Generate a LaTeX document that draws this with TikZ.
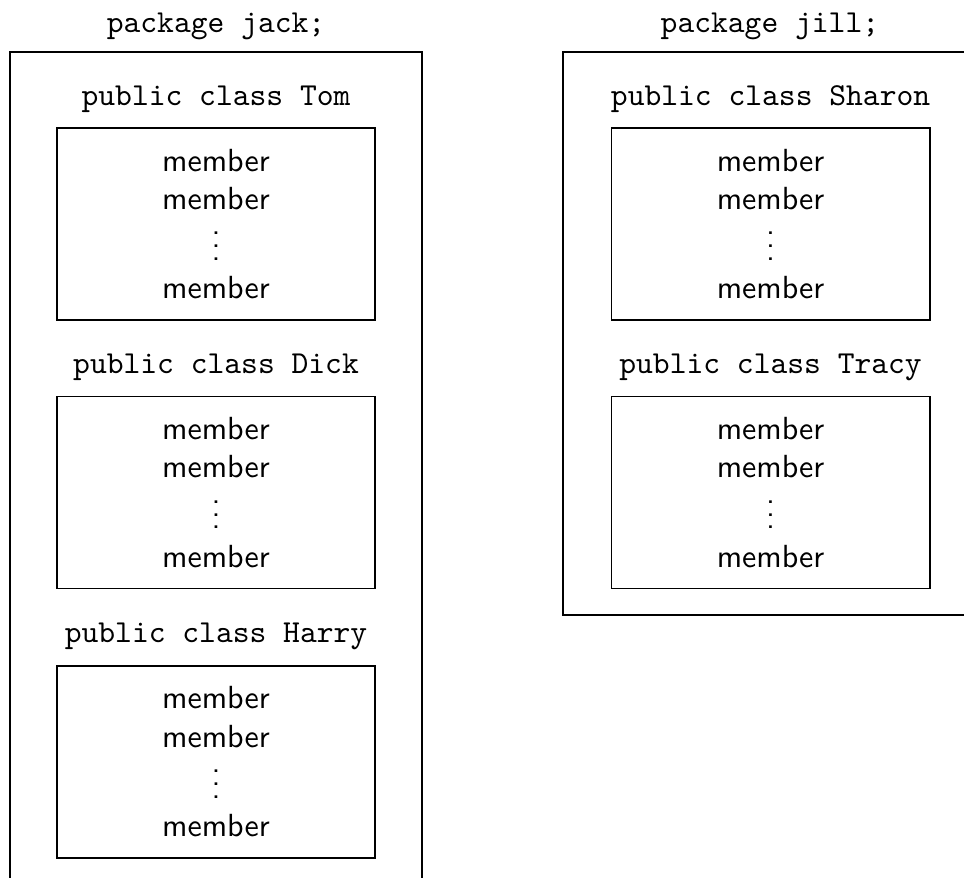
\documentclass[tikz,border=0pt]{standalone}
\usetikzlibrary{positioning}
\newcommand{\memberlist}{member\\member\\$\vdots$\\member}
\begin{document}
\begin{tikzpicture}[x=1pt, y=-1pt,
  pkgbox/.style={draw, line width=0.6pt, outer sep=0pt, minimum width=128.75pt},
  classbox/.style={draw, line width=0.6pt, outer sep=0pt, align=center, font=\sffamily,
    minimum width=99.4pt, minimum height=60pt},
  title/.style={font=\ttfamily, inner sep=0pt}]

\clip (0,0) rectangle (301.25,274.06);

\node [pkgbox, minimum height=260.3pt] (jack) at (67.5,146.4) {};
\node [pkgbox, minimum width=129.4pt, minimum height=175.9pt] (jill) at (240.6,104.2) {};

\node [title, above=3.75pt of jack] (jacktitle) {package jack;};
\node [title, above=3.75pt of jill] (jilltitle) {package jill;};

\node [classbox] (tom)    at (67.5,70)    {\memberlist};
\node [classbox] (dick)   at (67.5,153.9) {\memberlist};
\node [classbox] (harry)  at (67.5,238.1) {\memberlist};
\node [classbox] (sharon) at (240.8,70)    {\memberlist};
\node [classbox] (tracy)  at (240.8,153.9) {\memberlist};

\node [title, above=4.7pt of tom]    (tomtitle)    {public class Tom};
\node [title, above=4.7pt of dick]   (dicktitle)   {public class Dick};
\node [title, above=4.7pt of harry]  (harrytitle)  {public class Harry};
\node [title, above=4.7pt of sharon] (sharontitle) {public class Sharon};
\node [title, above=4.7pt of tracy]  (tracytitle)  {public class Tracy};

\end{tikzpicture}
\end{document}
